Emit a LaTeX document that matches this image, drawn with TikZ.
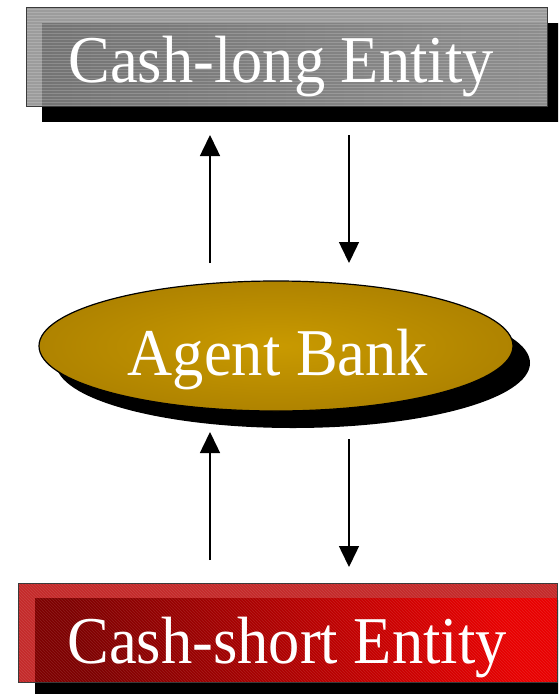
\documentclass[tikz,border=0pt]{standalone}
\usepackage{fontspec}
\usepackage{graphicx}
\setmainfont{Liberation Serif}
\newfontfamily\timesfam{Liberation Serif}
\usetikzlibrary{arrows.meta,shapes.geometric,patterns}
\definecolor{bevelgray}{HTML}{9C9C9C}
\definecolor{innergrayL}{HTML}{747474}
\definecolor{innergrayR}{HTML}{8E8E8E}
\definecolor{bevelred}{HTML}{C42A2A}
\definecolor{innerredA}{HTML}{7E0000}
\definecolor{innerredB}{HTML}{E80000}
\definecolor{goldin}{HTML}{C99A00}
\definecolor{goldout}{HTML}{AF8300}
\definecolor{edgegray}{HTML}{3A3A3A}
\tikzset{
  labeltext/.style={text=white, anchor=base, inner sep=0pt, font=\timesfam\fontsize{62.5}{70}\selectfont},
  flow/.style={line width=1.5pt, -{Triangle[width=20pt,length=21pt]}},
}
\begin{document}
\begin{tikzpicture}[x=1pt,y=-1pt]
\clip (0,0) rectangle (558,694);
\fill[white] (0,0) rectangle (558,694);

% top box
\fill[black] (42,23) rectangle (563,122);
\node[draw=edgegray, line width=0.8pt, fill=bevelgray, minimum width=521pt, minimum height=99pt, inner sep=0pt, anchor=north west] (long) at (26,7) {};
\fill[left color=innergrayL, right color=innergrayR] (42,23) rectangle (long.south east);
\fill[pattern=horizontal lines, pattern color=white, opacity=0.18] (long.north west) rectangle (long.south east);
\draw[edgegray, line width=0.8pt] (long.north west) rectangle (long.south east);
\node[labeltext] (longtext) at (281,82) {\scalebox{1}[1.07]{Cash-long Entity}};

% agent bank
\fill[black] (293,363) ellipse [x radius=237pt, y radius=65pt];
\node[ellipse, draw=black, line width=1.2pt, inner color=goldin, outer color=goldout, minimum width=474pt, minimum height=130pt, inner sep=0pt] (agent) at (276,346) {};
\node[labeltext] (agenttext) at (278,375) {\scalebox{1}[1.07]{Agent Bank}};

% bottom box
\fill[black] (35,600) rectangle (574,699);
\node[draw=edgegray, line width=0.8pt, fill=bevelred, minimum width=539pt, minimum height=99pt, inner sep=0pt, anchor=north west] (short) at (18,583) {};
\fill[left color=innerredA, right color=innerredB, shading angle=110] (35,598) rectangle (short.south east);
\fill[pattern=north west lines, pattern color=white, opacity=0.12] (short.north west) rectangle (short.south east);
\draw[edgegray, line width=0.8pt] (short.north west) rectangle (short.south east);
\node[labeltext] (shorttext) at (287,663) {\scalebox{1}[1.07]{Cash-short Entity}};

% connectors
\coordinate (u1s) at (210,263);
\coordinate (u1e) at (210,135);
\coordinate (d1s) at (349,135);
\coordinate (d1e) at (349,263);
\coordinate (u2s) at (210,560);
\coordinate (u2e) at (210,432);
\coordinate (d2s) at (349,439);
\coordinate (d2e) at (349,567);
\draw[flow] (u1s) -- (u1e);
\draw[flow] (d1s) -- (d1e);
\draw[flow] (u2s) -- (u2e);
\draw[flow] (d2s) -- (d2e);
\end{tikzpicture}
\end{document}
